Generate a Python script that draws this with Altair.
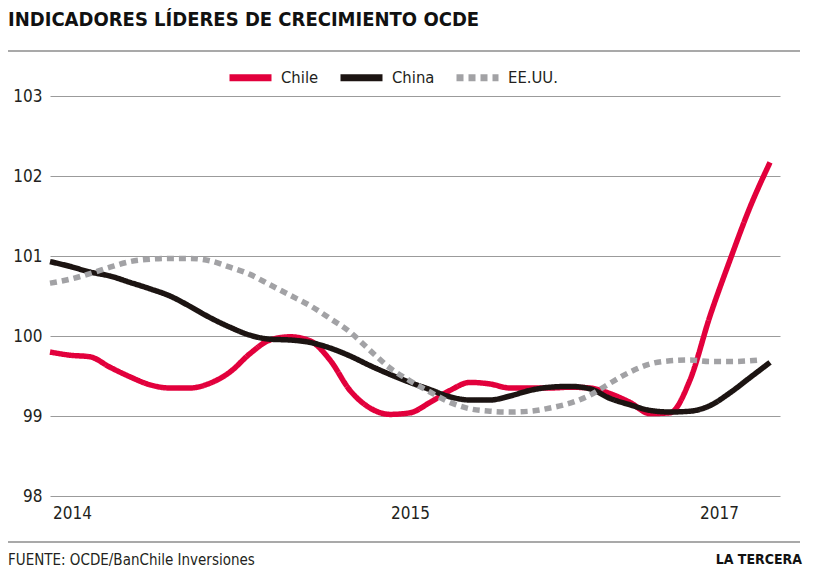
import altair as alt
import pandas as pd

# ---------------- data ----------------
mes = list(range(37))  # index of the horizontal position
chile = [99.80, 99.76, 99.74, 99.61, 99.49, 99.39, 99.35, 99.35, 99.41, 99.55,
         99.78, 99.95, 99.99, 99.94, 99.70, 99.32, 99.10, 99.02, 99.04, 99.17,
         99.32, 99.42, 99.40, 99.35, 99.35, 99.35, 99.36, 99.35, 99.28, 99.17,
         99.03, 99.04, 99.45, 100.25, 100.95, 101.61, 102.17]
china = [100.93, 100.87, 100.80, 100.75, 100.67, 100.59, 100.50, 100.37, 100.23, 100.11,
         100.01, 99.96, 99.95, 99.92, 99.85, 99.75, 99.63, 99.52, 99.42, 99.33,
         99.24, 99.20, 99.20, 99.25, 99.32, 99.36, 99.37, 99.34, 99.22, 99.14,
         99.07, 99.05, 99.06, 99.13, 99.29, 99.48, 99.67]
mes_eeuu = list(range(36)) + [35.5]
eeuu = [100.66, 100.71, 100.78, 100.86, 100.93, 100.96, 100.97, 100.97, 100.94, 100.86,
        100.77, 100.64, 100.51, 100.38, 100.22, 100.05, 99.82, 99.60, 99.44, 99.30,
        99.17, 99.09, 99.06, 99.05, 99.06, 99.10, 99.16, 99.26, 99.41, 99.55,
        99.65, 99.69, 99.70, 99.68, 99.68, 99.69, 99.70]

series = ["Chile", "China", "EE.UU."]
colores = ["#E2003C", "#1C1412", "#A2A2A5"]
trazos = [[1, 0], [1, 0], [7, 5]]

x_tick_pos = [1.1, 18.0, 33.45]
x_tick_labels = ["2014", "2015", "2017"]
y_ticks = [98, 99, 100, 101, 102, 103]

titulo = "INDICADORES LÍDERES DE CRECIMIENTO OCDE"
fuente = "FUENTE: OCDE/BanChile Inversiones"
marca = "LA TERCERA"

FONT = "Liberation Sans Narrow, DejaVu Sans Condensed, Roboto, sans-serif"

rows = []
for t, v in zip(mes, chile):
    rows.append({"serie": "Chile", "t": t, "v": v})
for t, v in zip(mes, china):
    rows.append({"serie": "China", "t": t, "v": v})
for t, v in zip(mes_eeuu, eeuu):
    rows.append({"serie": "EE.UU.", "t": t, "v": v})
df = pd.DataFrame(rows)

label_expr = " : ".join(
    f"abs(datum.value - {p}) < 0.5 ? '{l}'" for p, l in zip(x_tick_pos, x_tick_labels)
) + " : ''"

lines = alt.Chart(df).mark_line(strokeWidth=5.5, strokeCap="butt", interpolate="monotone").encode(
    x=alt.X("t:Q", scale=alt.Scale(domain=[0, 36.5], nice=False, zero=False),
            axis=alt.Axis(values=x_tick_pos, labelExpr=label_expr, title=None, grid=False,
                          domain=False, ticks=False, labelFont=FONT, labelFontSize=17,
                          labelColor="#231F20", labelPadding=9, labelFlush=False)),
    y=alt.Y("v:Q", scale=alt.Scale(domain=[98, 103], nice=False, zero=False),
            axis=alt.Axis(values=y_ticks, title=None, grid=True, gridColor="#9B9B9B",
                          gridWidth=1, domain=False, ticks=False, labelFont=FONT,
                          labelFontSize=17, labelColor="#231F20", labelPadding=8)),
    color=alt.Color("serie:N", scale=alt.Scale(domain=series, range=colores),
                    legend=alt.Legend(orient="none", direction="horizontal", title=None,
                                      legendX=176, legendY=-43, symbolType="stroke",
                                      symbolSize=1764, symbolStrokeWidth=7,
                                      labelFont=FONT, labelFontSize=16.5, labelColor="#231F20",
                                      labelOffset=6, columnPadding=7)),
    strokeDash=alt.StrokeDash("serie:N", scale=alt.Scale(domain=series, range=trazos),
                              legend=None),
    order="t:Q",
)

def texto(s, x, y, size, weight="normal", align="left", color="#231F20"):
    return alt.Chart(pd.DataFrame({"s": [s]})).mark_text(
        align=align, baseline="alphabetic", font=FONT, fontSize=size,
        fontWeight=weight, color=color
    ).encode(x=alt.value(x), y=alt.value(y), text="s:N")

def regla(y, x1, x2, width=1.6, color="#8C8C8C"):
    return alt.Chart(pd.DataFrame({"a": [0]})).mark_rule(
        color=color, strokeWidth=width
    ).encode(x=alt.value(x1), x2=alt.value(x2), y=alt.value(y))

chart = alt.layer(
    regla(-91.7, -42, 750),
    regla(-45, -42, 750),
    regla(446, -42, 750),
    lines,
    texto(titulo, -42, -70.5, 20, weight=900, color="#111111"),
    texto(fuente, -42, 469, 15),
    texto(marca, 752, 468, 14, weight="bold", align="right", color="#111111"),
).properties(
    width=730, height=400,
    autosize=alt.AutoSizeParams(type="none"),
    padding={"left": 42, "top": 88, "right": 30, "bottom": 75},
).configure_view(stroke=None)

chart.save("out.html", embed_options={"renderer": "svg", "actions": False})
